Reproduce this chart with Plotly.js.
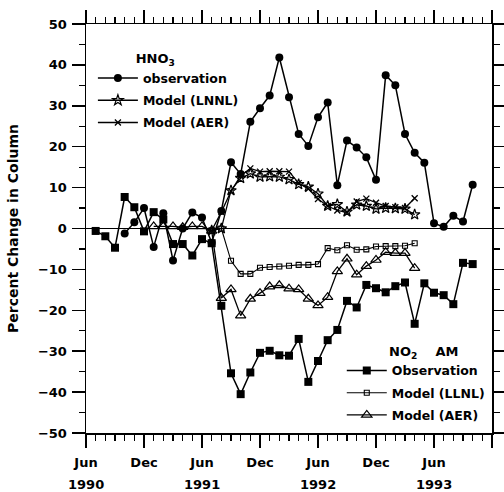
<!DOCTYPE html>
<html>
<head>
<meta charset="utf-8">
<script src="https://cdn.plot.ly/plotly-3.0.1.min.js"></script>
<style>html,body{margin:0;padding:0;background:#fff;}#chart{width:504px;height:492px;}</style>
</head>
<body>
<div id="chart"></div>
<script>
// x values are months since June 1990
const hno3ObsMonths = [4,5,6,7,8,9,10,11,12,13,14,15,16,17,18,19,20,21,22,23,24,25,26,27,28,29,30,31,32,33,34,35,36,37,38,39,40];
const hno3ObsValues = [-1.2,1.5,5.0,-4.5,3.7,-7.8,0.0,3.9,2.7,-3.5,4.3,16.2,13.3,26.1,29.4,32.5,41.8,32.1,23.1,20.2,27.2,30.8,10.6,21.5,19.8,17.4,11.9,37.5,35.0,23.1,18.5,16.1,1.3,0.4,3.1,1.7,10.7];

const hno3ModelMonths = [13,14,15,16,17,18,19,20,21,22,23,24,25,26,27,28,29,30,31,32,33,34];
const hno3LnnlValues = [-0.5,0.0,9.3,12.3,13.4,12.6,12.7,12.6,12.0,10.8,10.2,8.5,5.5,5.9,4.1,5.8,5.5,4.8,5.0,4.9,4.8,3.4];
const hno3AerValues  = [-0.5,4.0,9.1,12.9,14.7,13.9,14.0,14.0,13.9,11.1,9.7,7.2,5.5,4.4,3.9,6.6,7.3,6.3,5.5,5.2,5.0,7.4];

const no2ObsMonths = [1,2,3,4,5,6,7,8,9,10,11,12,13,14,15,16,17,18,19,20,21,22,23,24,25,26,27,28,29,30,31,32,33,34,35,36,37,38,39,40];
const no2ObsValues = [-0.6,-1.9,-4.7,7.7,5.2,-0.7,4.0,2.2,-3.8,-3.8,-6.6,-2.6,-3.6,-18.9,-35.4,-40.5,-35.2,-30.4,-29.9,-31.0,-31.1,-27.0,-37.5,-32.4,-27.3,-24.8,-17.7,-19.3,-13.8,-14.6,-15.6,-14.1,-13.2,-23.3,-13.4,-15.7,-16.3,-18.5,-8.4,-8.7];

const no2LlnlMonths = [13,14,15,16,17,18,19,20,21,22,23,24,25,26,27,28,29,30,31,32,33,34];
const no2LlnlValues = [-0.5,0.0,-7.9,-11.1,-11.1,-9.6,-9.4,-9.3,-9.1,-8.9,-8.9,-8.7,-4.8,-5.3,-4.1,-5.2,-5.1,-4.4,-4.3,-4.3,-4.2,-3.6];

const no2AerMonths = [7,8,9,10,11,12,13,14,15,16,17,18,19,20,21,22,23,24,25,26,27,28,29,30,31,32,33,34];
const no2AerValues = [0.5,0.5,0.5,0.3,0.5,0.5,-0.6,-17.0,-14.9,-21.3,-17.2,-15.8,-14.2,-13.9,-14.7,-14.9,-17.2,-18.8,-16.8,-10.5,-7.4,-11.3,-9.2,-7.7,-5.8,-6.0,-6.0,-9.7];

const tickMonths = [0,6,12,18,24,30,36,42];
const tickLabels = ['Jun','Dec','Jun','Dec','Jun','Dec','Jun','Dec'];
const yearMonths = [0,12,24,36];
const yearLabels = ['1990','1991','1992','1993'];

const FONT = 'DejaVu Sans';
const lineStyle = {color:'black', width:1.5};

const traces = [
  {x:hno3ObsMonths, y:hno3ObsValues, name:'observation', legend:'legend', legendgroup:'a1', mode:'lines+markers',
   line:lineStyle, marker:{symbol:'circle', size:8, color:'black'}},
  {x:hno3ModelMonths, y:hno3LnnlValues, name:'Model (LNNL)', legend:'legend', legendgroup:'a2', mode:'lines+markers',
   line:{color:'black', width:1.3}, marker:{symbol:'star-open', size:8, color:'black', line:{color:'black', width:1.2}}},
  {x:hno3ModelMonths, y:hno3AerValues, name:'Model (AER)', legend:'legend', legendgroup:'a3', mode:'lines+markers',
   line:{color:'black', width:1.3}, marker:{symbol:'x-thin-open', size:6, color:'black', line:{color:'black', width:1.3}}},
  {x:no2ObsMonths, y:no2ObsValues, name:'Observation', legend:'legend2', legendgroup:'b1', mode:'lines+markers',
   line:lineStyle, marker:{symbol:'square', size:8, color:'black'}},
  {x:no2LlnlMonths, y:no2LlnlValues, name:'Model (LLNL)', legend:'legend2', legendgroup:'b2', mode:'lines+markers',
   line:{color:'black', width:1.1}, marker:{symbol:'square-open', size:5, color:'black', line:{color:'black', width:1.1}}},
  {x:no2AerMonths, y:no2AerValues, name:'Model (AER)', legend:'legend2', legendgroup:'b3', mode:'lines+markers',
   line:{color:'black', width:1.3}, marker:{symbol:'triangle-up-open', size:9, color:'black', line:{color:'black', width:1.2}}}
];

const legendFont = {family:FONT, size:12.5, weight:'bold', color:'black'};
const nb = '\u00a0';

const layout = {
  width:504, height:492,
  margin:{l:86, r:12, t:24, b:59},
  paper_bgcolor:'white', plot_bgcolor:'white',
  font:{family:FONT, size:13, weight:'bold', color:'black'},
  showlegend:true,
  xaxis:{
    range:[0,42], showgrid:false, zeroline:false,
    showline:true, linecolor:'black', linewidth:1.5, mirror:'allticks',
    tickmode:'array', tickvals:tickMonths, ticktext:tickLabels,
    ticks:'outside', ticklen:13, tickwidth:1.5, tickcolor:'black',
    ticklabelstandoff:4,
    tickfont:{family:FONT, size:13, weight:'bold', color:'black'},
    minor:{dtick:1, ticks:'outside', ticklen:6, tickwidth:1.2, tickcolor:'black', showgrid:false}
  },
  yaxis:{
    range:[-50,50], showgrid:false,
    zeroline:true, zerolinecolor:'black', zerolinewidth:1.5,
    showline:true, linecolor:'black', linewidth:1.5, mirror:'allticks',
    tickmode:'linear', tick0:0, dtick:10,
    ticks:'outside', ticklen:13, tickwidth:1.5, tickcolor:'black',
    ticklabelstandoff:2,
    tickfont:{family:FONT, size:13, weight:'bold', color:'black'},
    minor:{dtick:5, ticks:'outside', ticklen:6, tickwidth:1.2, tickcolor:'black', showgrid:false},
    title:{text:'Percent Change in Column', standoff:16, font:{family:FONT, size:14, weight:'bold', color:'black'}}
  },
  legend:{
    x:0.017, y:0.945, xanchor:'left', yanchor:'top',
    bgcolor:'rgba(0,0,0,0)', borderwidth:0, font:legendFont, itemwidth:40, tracegroupgap:3,
    title:{text:nb.repeat(9)+'HNO<sub>3</sub>', side:'top', font:{family:FONT, size:13, weight:'bold', color:'black'}}
  },
  legend2:{
    x:0.63, y:0.23, xanchor:'left', yanchor:'top',
    bgcolor:'rgba(0,0,0,0)', borderwidth:0, font:legendFont, itemwidth:40, tracegroupgap:3,
    title:{text:nb.repeat(10)+'NO<sub>2</sub>'+nb.repeat(4)+'AM', side:'top', font:{family:FONT, size:13, weight:'bold', color:'black'}}
  },
  annotations: yearLabels.map((t,i)=>({
    x:yearMonths[i], xref:'x', y:-0.127, yref:'paper', text:t, showarrow:false,
    xanchor:'center', yanchor:'middle', font:{family:FONT, size:13, weight:'bold', color:'black'}
  }))
};

Plotly.newPlot('chart', traces, layout, {displayModeBar:false, staticPlot:true});
</script>
</body>
</html>
